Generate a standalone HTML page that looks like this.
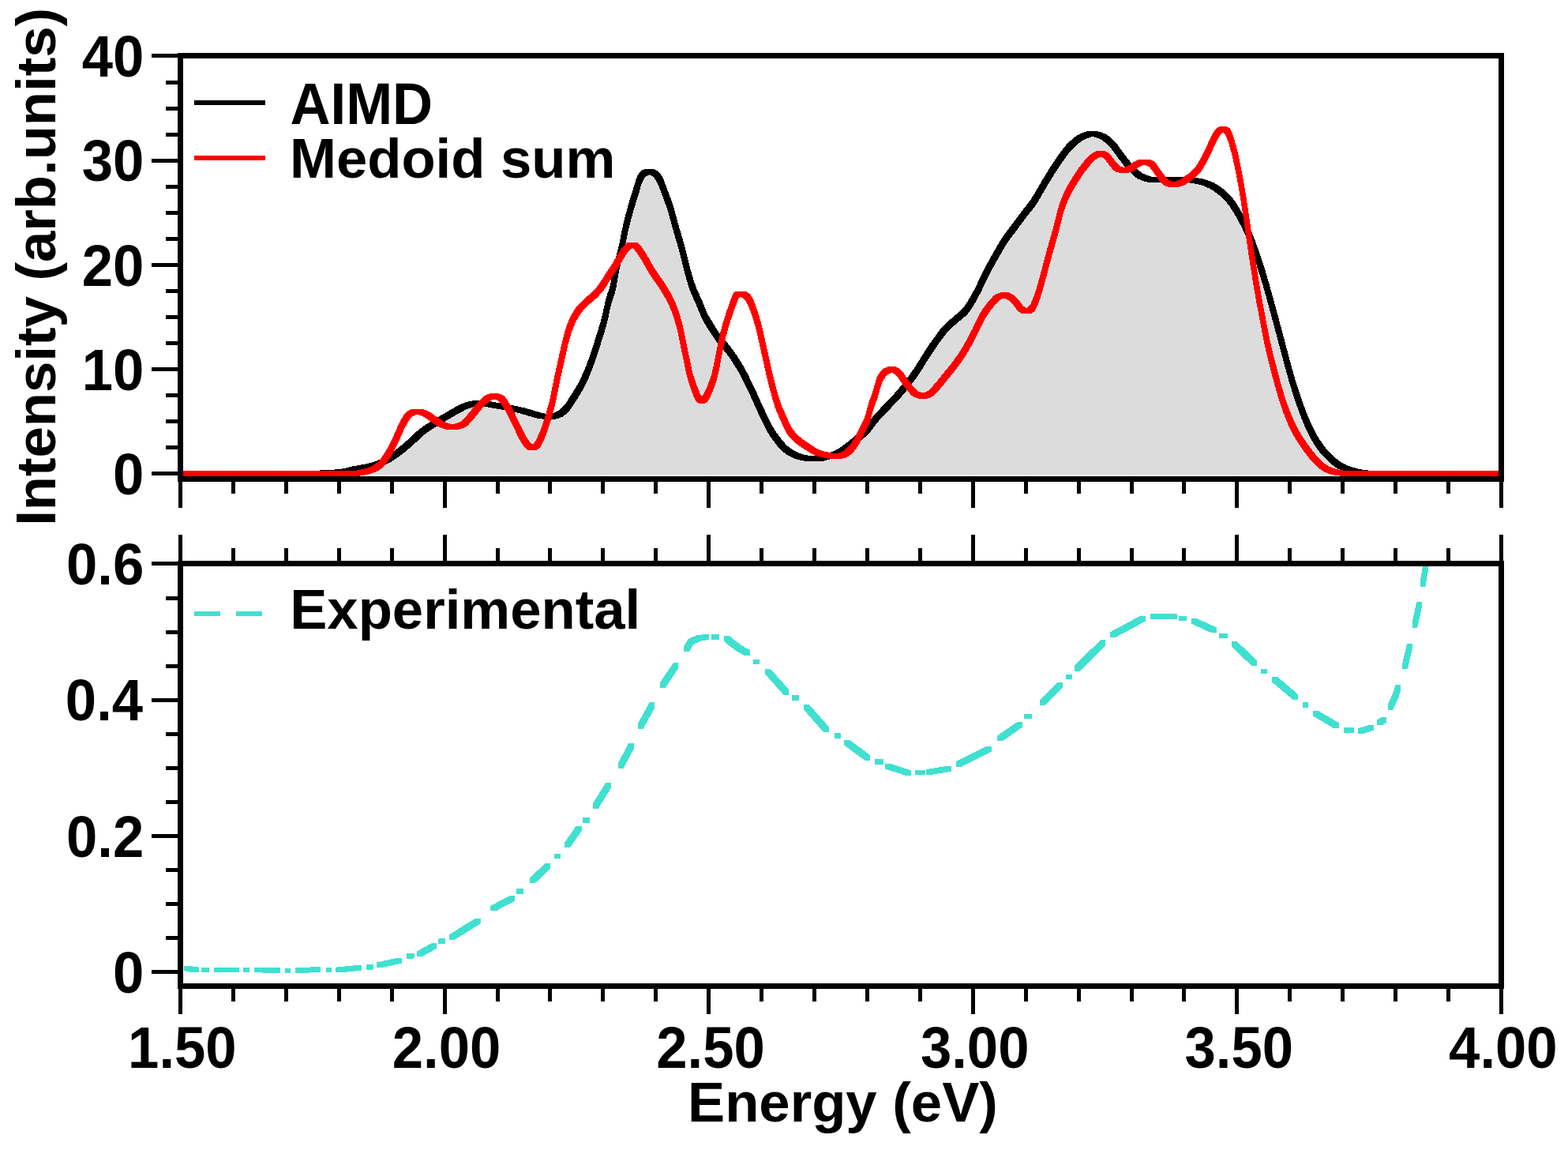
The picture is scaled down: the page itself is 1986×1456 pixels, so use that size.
<!DOCTYPE html>
<html lang="en"><head><meta charset="utf-8"><title>Absorption spectra: AIMD, Medoid sum, Experimental</title>
<style>html,body{margin:0;padding:0;background:#fff}body{width:1986px;height:1456px;overflow:hidden}svg{display:block}text{font-family:"Liberation Sans", Arial, Helvetica, sans-serif;font-weight:bold;font-size:70.7px;fill:#000}</style>
</head><body>
<svg width="1986" height="1456" viewBox="0 0 1986 1456" role="img" aria-label="Absorption spectra: AIMD and medoid sum (top), experimental (bottom)">
<rect x="0" y="0" width="1986" height="1456" fill="#fff"/>
<g shape-rendering="crispEdges">
<polygon points="228.5,601 228.5,599.5 230.5,599.5 232.5,599.5 234.5,599.5 236.5,599.5 238.5,599.5 240.5,599.5 242.5,599.5 244.5,599.5 246.5,599.5 248.5,599.5 250.5,599.5 252.5,599.5 254.5,599.5 256.5,599.5 258.5,599.5 260.5,599.5 262.5,599.5 264.5,599.5 266.5,599.5 268.5,599.5 270.5,599.5 272.5,599.5 274.5,599.5 276.5,599.5 278.5,599.5 280.5,599.5 282.5,599.5 284.5,599.5 286.5,599.5 288.5,599.5 290.5,599.5 292.5,599.5 294.5,599.5 296.5,599.5 298.5,599.5 300.5,599.5 302.5,599.5 304.5,599.5 306.5,599.5 308.5,599.5 310.5,599.5 312.5,599.5 314.5,599.5 316.5,599.5 318.5,599.5 320.5,599.5 322.5,599.5 324.5,599.5 326.5,599.5 328.5,599.5 330.5,599.5 332.5,599.5 334.5,599.4 336.5,599.4 338.5,599.4 340.5,599.4 342.5,599.4 344.5,599.4 346.5,599.4 348.5,599.4 350.5,599.4 352.5,599.4 354.5,599.4 356.5,599.4 358.5,599.4 360.5,599.4 362.5,599.4 364.5,599.3 366.5,599.3 368.5,599.3 370.5,599.3 372.5,599.3 374.5,599.3 376.5,599.3 378.5,599.3 380.5,599.2 382.5,599.2 384.5,599.2 386.5,599.2 388.5,599.2 390.5,599.1 392.5,599.1 394.5,599.1 396.5,599.1 398.5,599 400.5,599 402.5,599 404.5,599 406.5,598.9 408.5,598.9 410.5,598.9 412.5,598.8 414.5,598.8 416.5,598.7 418.5,598.6 420.5,598.5 422.5,598.4 424.5,598.2 426.5,598 428.5,597.8 430.5,597.6 432.5,597.3 434.5,597.1 436.5,596.8 438.5,596.5 440.5,596.1 442.5,595.6 444.5,595.1 446.5,594.6 448.5,594.1 450.5,593.7 452.5,593.3 454.5,592.9 456.5,592.6 458.5,592.3 460.5,591.9 462.5,591.6 464.5,591.2 466.5,590.8 468.5,590.4 470.5,589.9 472.5,589.3 474.5,588.8 476.5,588.1 478.5,587.4 480.5,586.7 482.5,585.9 484.5,585.1 486.5,584.3 488.5,583.3 490.5,582.3 492.5,581.1 494.5,579.9 496.5,578.6 498.5,577.2 500.5,575.8 502.5,574.3 504.5,572.9 506.5,571.4 508.5,569.8 510.5,568.2 512.5,566.5 514.5,564.8 516.5,563.1 518.5,561.3 520.5,559.6 522.5,557.7 524.5,555.8 526.5,553.9 528.5,552 530.5,550.1 532.5,548.4 534.5,546.7 536.5,545.2 538.5,543.7 540.5,542.3 542.5,541 544.5,539.7 546.5,538.5 548.5,537.2 550.5,536 552.5,534.8 554.5,533.6 556.5,532.4 558.5,531.2 560.5,530.1 562.5,528.9 564.5,527.8 566.5,526.6 568.5,525.4 570.5,524.2 572.5,523 574.5,521.8 576.5,520.7 578.5,519.6 580.5,518.5 582.5,517.5 584.5,516.4 586.5,515.4 588.5,514.5 590.5,513.7 592.5,513 594.5,512.4 596.5,511.8 598.5,511.3 600.5,510.9 602.5,510.8 604.5,510.8 606.5,510.9 608.5,510.9 610.5,511 612.5,511.1 614.5,511.3 616.5,511.4 618.5,511.7 620.5,512 622.5,512.4 624.5,512.8 626.5,513.2 628.5,513.5 630.5,513.9 632.5,514.2 634.5,514.5 636.5,514.9 638.5,515.2 640.5,515.5 642.5,515.8 644.5,516.2 646.5,516.6 648.5,517 650.5,517.4 652.5,517.8 654.5,518.2 656.5,518.7 658.5,519.1 660.5,519.6 662.5,520.1 664.5,520.7 666.5,521.3 668.5,521.9 670.5,522.5 672.5,523.1 674.5,523.7 676.5,524.2 678.5,524.8 680.5,525.5 682.5,526.1 684.5,526.5 686.5,526.9 688.5,527.1 690.5,527.2 692.5,527.4 694.5,527.4 696.5,527.5 698.5,527.5 700.5,527.2 702.5,526.7 704.5,526.1 706.5,525.4 708.5,524.6 710.5,523.4 712.5,521.8 714.5,520 716.5,518 718.5,515.8 720.5,513 722.5,510.1 724.5,507.1 726.5,504 728.5,500.8 730.5,497.6 732.5,494.2 734.5,490.6 736.5,486.9 738.5,483 740.5,479 742.5,474.5 744.5,469.6 746.5,464.5 748.5,459.1 750.5,453.6 752.5,447.7 754.5,441.5 756.5,435.1 758.5,428.7 760.5,422.4 762.5,416 764.5,409.1 766.5,401.3 768.5,391.8 770.5,382.7 772.5,375.9 774.5,370.6 776.5,363.7 778.5,352.2 780.5,340.5 782.5,332.1 784.5,325 786.5,317.5 788.5,308.3 790.5,297.8 792.5,288.3 794.5,280 796.5,272.3 798.5,265 800.5,258.2 802.5,251.8 804.5,245.5 806.5,239 808.5,231.8 810.5,226.5 812.5,222.8 814.5,220.4 816.5,219.1 818.5,218 820.5,217.4 822.5,217.2 824.5,217.5 826.5,218.2 828.5,219.2 830.5,220.3 832.5,222.5 834.5,225.6 836.5,229.3 838.5,234.3 840.5,239.7 842.5,245 844.5,250.3 846.5,255.8 848.5,261.6 850.5,268 852.5,275.1 854.5,282.7 856.5,290 858.5,296.8 860.5,303.5 862.5,310.3 864.5,317.7 866.5,325.9 868.5,334.2 870.5,341.8 872.5,349 874.5,355.9 876.5,362.2 878.5,367.6 880.5,372.2 882.5,376.5 884.5,380.9 886.5,385.6 888.5,390.7 890.5,395.6 892.5,400 894.5,403.8 896.5,407.3 898.5,410.6 900.5,413.8 902.5,417 904.5,420.1 906.5,423.1 908.5,426 910.5,428.7 912.5,431.2 914.5,433.6 916.5,435.9 918.5,438.2 920.5,440.6 922.5,443.1 924.5,445.7 926.5,448.5 928.5,451.4 930.5,454.4 932.5,457.5 934.5,460.7 936.5,464 938.5,467.4 940.5,470.9 942.5,474.6 944.5,478.5 946.5,482.5 948.5,486.6 950.5,490.8 952.5,495 954.5,499.3 956.5,503.8 958.5,508.3 960.5,512.8 962.5,517.2 964.5,521.5 966.5,525.8 968.5,530.1 970.5,534.3 972.5,538.3 974.5,542.1 976.5,545.5 978.5,548.6 980.5,551.5 982.5,554.3 984.5,556.9 986.5,559.4 988.5,561.9 990.5,564.3 992.5,566.5 994.5,568.4 996.5,570 998.5,571.3 1000.5,572.6 1002.5,573.7 1004.5,574.8 1006.5,575.7 1008.5,576.7 1010.5,577.5 1012.5,578.3 1014.5,578.9 1016.5,579.3 1018.5,579.7 1020.5,580 1022.5,580.3 1024.5,580.5 1026.5,580.6 1028.5,580.8 1030.5,580.9 1032.5,581 1034.5,581 1036.5,580.9 1038.5,580.6 1040.5,580.2 1042.5,579.6 1044.5,579 1046.5,578.4 1048.5,577.9 1050.5,577.3 1052.5,576.8 1054.5,576.2 1056.5,575.5 1058.5,574.8 1060.5,574 1062.5,573.1 1064.5,572.1 1066.5,570.8 1068.5,569.4 1070.5,567.9 1072.5,566.3 1074.5,564.8 1076.5,563.3 1078.5,561.7 1080.5,560.1 1082.5,558.5 1084.5,556.8 1086.5,555.1 1088.5,553.4 1090.5,551.7 1092.5,550 1094.5,548.1 1096.5,546.2 1098.5,544.1 1100.5,541.8 1102.5,539.2 1104.5,536.4 1106.5,533.6 1108.5,531 1110.5,528.7 1112.5,526.5 1114.5,524.3 1116.5,522.2 1118.5,520.2 1120.5,518.1 1122.5,516.1 1124.5,513.9 1126.5,511.8 1128.5,509.7 1130.5,507.6 1132.5,505.5 1134.5,503.3 1136.5,501.1 1138.5,498.9 1140.5,496.6 1142.5,494.2 1144.5,491.8 1146.5,489.4 1148.5,486.9 1150.5,484.4 1152.5,481.7 1154.5,479 1156.5,476.2 1158.5,473.4 1160.5,470.5 1162.5,467.5 1164.5,464.4 1166.5,461.2 1168.5,458 1170.5,454.7 1172.5,451.4 1174.5,448.3 1176.5,445.2 1178.5,442.2 1180.5,439.3 1182.5,436.3 1184.5,433.5 1186.5,430.7 1188.5,427.9 1190.5,425.1 1192.5,422.4 1194.5,419.8 1196.5,417.4 1198.5,415.3 1200.5,413.3 1202.5,411.5 1204.5,409.7 1206.5,408 1208.5,406.3 1210.5,404.6 1212.5,402.9 1214.5,401.2 1216.5,399.6 1218.5,397.8 1220.5,395.9 1222.5,393.8 1224.5,391.3 1226.5,388.5 1228.5,385.5 1230.5,382.2 1232.5,378.7 1234.5,375.2 1236.5,371.6 1238.5,367.8 1240.5,363.6 1242.5,359.4 1244.5,355.1 1246.5,350.9 1248.5,346.9 1250.5,343.1 1252.5,339.2 1254.5,335.5 1256.5,331.8 1258.5,328.2 1260.5,324.6 1262.5,321.1 1264.5,317.6 1266.5,314.2 1268.5,310.8 1270.5,307.6 1272.5,304.5 1274.5,301.5 1276.5,298.7 1278.5,296 1280.5,293.4 1282.5,290.8 1284.5,288.2 1286.5,285.5 1288.5,282.8 1290.5,280 1292.5,277.3 1294.5,274.6 1296.5,272 1298.5,269.4 1300.5,266.9 1302.5,264.4 1304.5,261.8 1306.5,259.2 1308.5,256.4 1310.5,253.5 1312.5,250.3 1314.5,246.9 1316.5,243.4 1318.5,239.9 1320.5,236.4 1322.5,233 1324.5,229.7 1326.5,226.4 1328.5,223 1330.5,219.8 1332.5,216.5 1334.5,213.4 1336.5,210.3 1338.5,207.3 1340.5,204.5 1342.5,201.7 1344.5,198.9 1346.5,196 1348.5,193.2 1350.5,190.7 1352.5,188.3 1354.5,186 1356.5,183.9 1358.5,182 1360.5,180.3 1362.5,178.6 1364.5,177 1366.5,175.5 1368.5,174.3 1370.5,173.2 1372.5,172.4 1374.5,171.5 1376.5,170.8 1378.5,170.1 1380.5,169.6 1382.5,169.3 1384.5,169.3 1386.5,169.6 1388.5,170 1390.5,170.5 1392.5,171.2 1394.5,171.9 1396.5,172.7 1398.5,173.8 1400.5,175.1 1402.5,176.8 1404.5,178.6 1406.5,180.5 1408.5,182.5 1410.5,184.7 1412.5,187.2 1414.5,189.9 1416.5,192.7 1418.5,195.5 1420.5,198.2 1422.5,200.7 1424.5,203.3 1426.5,205.8 1428.5,208.3 1430.5,210.6 1432.5,212.8 1434.5,214.8 1436.5,216.7 1438.5,218.5 1440.5,220.3 1442.5,221.8 1444.5,223.1 1446.5,224 1448.5,224.8 1450.5,225.6 1452.5,226.3 1454.5,226.9 1456.5,227.3 1458.5,227.5 1460.5,227.6 1462.5,227.8 1464.5,227.8 1466.5,227.9 1468.5,228 1470.5,228 1472.5,228 1474.5,227.9 1476.5,227.8 1478.5,227.7 1480.5,227.6 1482.5,227.5 1484.5,227.5 1486.5,227.5 1488.5,227.5 1490.5,227.5 1492.5,227.5 1494.5,227.5 1496.5,227.5 1498.5,227.5 1500.5,227.6 1502.5,227.7 1504.5,227.8 1506.5,227.9 1508.5,228 1510.5,228.2 1512.5,228.4 1514.5,228.7 1516.5,229.1 1518.5,229.5 1520.5,229.9 1522.5,230.4 1524.5,230.9 1526.5,231.6 1528.5,232.4 1530.5,233.2 1532.5,234 1534.5,235 1536.5,236 1538.5,237.2 1540.5,238.5 1542.5,239.9 1544.5,241.3 1546.5,242.9 1548.5,244.6 1550.5,246.4 1552.5,248.3 1554.5,250.4 1556.5,252.6 1558.5,255 1560.5,257.6 1562.5,260.6 1564.5,263.7 1566.5,267.1 1568.5,270.6 1570.5,274.1 1572.5,277.7 1574.5,281.5 1576.5,285.4 1578.5,289.5 1580.5,293.9 1582.5,298.5 1584.5,303.4 1586.5,308.5 1588.5,313.9 1590.5,319.4 1592.5,325.1 1594.5,331 1596.5,337.1 1598.5,343.4 1600.5,349.9 1602.5,356.7 1604.5,363.7 1606.5,370.8 1608.5,378 1610.5,385.2 1612.5,392.5 1614.5,399.9 1616.5,407.4 1618.5,414.9 1620.5,422.5 1622.5,430.1 1624.5,437.8 1626.5,445.4 1628.5,452.8 1630.5,460.2 1632.5,467.6 1634.5,474.8 1636.5,481.7 1638.5,488.2 1640.5,494.6 1642.5,500.7 1644.5,506.6 1646.5,512.2 1648.5,517.7 1650.5,523.1 1652.5,528.2 1654.5,533.2 1656.5,537.8 1658.5,542.1 1660.5,546.2 1662.5,550.1 1664.5,553.8 1666.5,557.2 1668.5,560.4 1670.5,563.4 1672.5,566.2 1674.5,568.8 1676.5,571.3 1678.5,573.6 1680.5,575.8 1682.5,577.9 1684.5,579.8 1686.5,581.6 1688.5,583.4 1690.5,585 1692.5,586.7 1694.5,588.1 1696.5,589.4 1698.5,590.5 1700.5,591.5 1702.5,592.4 1704.5,593.2 1706.5,593.9 1708.5,594.6 1710.5,595.1 1712.5,595.7 1714.5,596.2 1716.5,596.7 1718.5,597.2 1720.5,597.6 1722.5,598 1724.5,598.2 1726.5,598.5 1728.5,598.7 1730.5,598.9 1732.5,599.1 1734.5,599.3 1736.5,599.4 1738.5,599.5 1740.5,599.5 1742.5,599.5 1744.5,599.5 1746.5,599.5 1748.5,599.5 1750.5,599.5 1752.5,599.5 1754.5,599.5 1756.5,599.5 1758.5,599.5 1760.5,599.5 1762.5,599.5 1764.5,599.5 1766.5,599.5 1768.5,599.5 1770.5,599.5 1772.5,599.5 1774.5,599.5 1776.5,599.5 1778.5,599.5 1780.5,599.5 1782.5,599.5 1784.5,599.5 1786.5,599.5 1788.5,599.5 1790.5,599.5 1792.5,599.5 1794.5,599.5 1796.5,599.5 1798.5,599.5 1800.5,599.5 1802.5,599.5 1804.5,599.5 1806.5,599.5 1808.5,599.5 1810.5,599.5 1812.5,599.5 1814.5,599.5 1816.5,599.5 1818.5,599.5 1820.5,599.5 1822.5,599.5 1824.5,599.5 1826.5,599.5 1828.5,599.5 1830.5,599.5 1832.5,599.5 1834.5,599.5 1836.5,599.5 1838.5,599.5 1840.5,599.5 1842.5,599.5 1844.5,599.5 1846.5,599.5 1848.5,599.5 1850.5,599.5 1852.5,599.5 1854.5,599.5 1856.5,599.5 1858.5,599.5 1860.5,599.5 1862.5,599.5 1864.5,599.5 1866.5,599.5 1868.5,599.5 1870.5,599.5 1872.5,599.5 1874.5,599.5 1876.5,599.5 1878.5,599.5 1880.5,599.5 1882.5,599.5 1884.5,599.5 1886.5,599.5 1888.5,599.5 1890.5,599.5 1892.5,599.5 1894.5,599.5 1896.5,599.5 1898,599.5 1898,601" fill="#dcdcdc"/>
<path d="M375.1 595.9L313.1 596.1L225.2 596.1L225.2 602.9L333.9 602.8L373.9 602.7L401.9 602.4L417.9 602.1L423.9 601.9L431.9 601.1L441.9 599.9L453.9 597L467.9 594.5L471.9 593.7L475.9 592.7L479.9 591.5L485.9 589.3L489.9 587.6L493.9 585.6L497.9 583.2L501.9 580.5L511.9 573.2L515.9 569.9L523.9 562.9L535.9 551.7L539.9 548.5L543.9 545.7L555.9 538.1L581.9 522.9L587.9 519.8L591.9 517.8L595.9 516.4L599.9 515.2L601.9 514.6L604.3 514.3L613.1 514.8L617.1 515.3L625.1 516.9L639.1 519.2L649.1 521.1L657.1 523L679.1 529.4L683.1 530.2L685.1 530.4L693.1 530.8L701.9 530.8L703.9 530.5L707.9 529.5L711.9 527.9L713.9 526.7L715.9 525.2L719.9 521.4L721.9 519.2L723.9 516.4L731.9 504.2L737.9 494L741.9 486.4L745.9 477.8L749.9 467.8L753.9 456.9L757.9 444.9L765.9 419.3L767.9 412.4L769.9 404.6L773.9 386L775.9 379.3L777.9 373.9L779.9 367.1L783.9 343.8L785.9 335.5L789.9 320.9L791.9 311.6L793.9 301.1L795.9 291.6L797.9 283.3L801.9 268.4L803.9 261.5L809.9 242.3L811.9 235.1L813.9 229.8L815.9 226.2L817.9 223.7L819.9 222.4L822.3 221.3L825.1 222.5L827.1 223.7L829.1 225.9L831.1 229L833.1 232.6L835.1 237.6L841.1 253.6L845.1 264.9L847.1 271.3L853.1 293.4L859.1 313.7L861.1 321L865.1 337.5L867.1 345.2L871.1 359.3L873.1 365.5L875.1 370.9L877.1 375.6L881.1 384.2L887.1 398.9L889.1 403.4L893.1 410.6L899.1 420.3L903.1 426.4L907.1 432L909.1 434.5L917.1 444L921.1 449L927.1 457.7L931.1 464L935.1 470.7L939.1 477.9L945.1 490L951.1 502.7L959.1 520.6L967.1 537.6L971.1 545.4L975.1 552L979.1 557.6L985.1 565.3L989.1 569.8L991.1 571.7L995.1 574.7L999.1 577.1L1003.1 579.1L1007.1 580.9L1011.1 582.2L1017.1 583.4L1023.1 584L1031.2 584.3L1039.8 584.3L1041.8 584L1043.8 583.5L1055.8 580.1L1059.8 578.8L1063.8 577.3L1067.8 575.4L1069.8 574.1L1081.8 565.1L1093.8 555.1L1097.8 551.5L1101.8 547.5L1103.8 545.1L1109.8 537L1113.8 532L1117.8 527.7L1133.8 511L1139.8 504.5L1147.8 495.2L1153.8 487.7L1159.8 479.6L1165.8 470.9L1177.8 451.6L1183.8 442.6L1189.8 434L1197.8 423.2L1199.8 420.8L1203.8 416.6L1213.8 407.9L1221.8 401.2L1223.8 399.3L1225.8 397.2L1227.8 394.7L1231.8 388.8L1235.8 382.1L1239.8 374.9L1243.8 367L1249.8 354.3L1255.8 342.6L1263.8 328L1269.8 317.6L1273.8 310.9L1277.8 304.8L1279.8 302L1287.8 291.5L1299.8 275.3L1307.8 265.2L1311.8 259.8L1315.8 253.6L1325.8 236.3L1333.8 223.1L1337.8 216.7L1341.8 210.7L1349.8 199.3L1353.8 194L1357.8 189.4L1361.8 185.3L1367.8 180.3L1371.8 177.6L1373.8 176.6L1377.8 174.9L1381.8 173.4L1383.7 173L1387.2 173.9L1393.2 176.1L1395.2 177.1L1397.2 178.5L1401.2 181.9L1405.2 185.8L1407.2 188L1409.2 190.5L1417.2 201.5L1423.2 209.2L1427.2 214L1429.2 216.2L1435.2 221.9L1439.2 225.1L1441.2 226.4L1445.2 228.2L1449.2 229.6L1453.2 230.6L1455.2 230.8L1461.2 231.2L1467.2 231.3L1475.8 231.3L1485.8 230.9L1495.2 230.9L1501.2 231.1L1507.2 231.5L1511.2 232.1L1517.2 233.2L1521.2 234.3L1525.2 235.7L1531.2 238.3L1535.2 240.6L1541.2 244.7L1545.2 247.9L1549.2 251.6L1553.2 256L1557.2 261L1561.2 267.1L1565.2 273.9L1571.2 284.8L1575.2 292.9L1579.2 301.8L1581.2 306.7L1585.2 317.2L1589.2 328.4L1595.2 346.7L1601.2 367.1L1611.2 403.3L1627.2 463.6L1633.2 485L1637.2 497.9L1641.2 509.9L1645.2 521.1L1649.2 531.6L1653.2 541.2L1657.2 549.6L1661.2 557.1L1663.2 560.5L1667.2 566.7L1671.2 572.2L1673.2 574.7L1677.2 579.2L1681.2 583.2L1687.2 588.4L1691.2 591.5L1693.2 592.8L1695.2 593.9L1699.2 595.7L1705.2 597.9L1711.2 599.6L1717.2 600.9L1721.2 601.6L1731.2 602.6L1737.2 602.9L1901.3 602.9L1901.3 596.1L1743.8 596.1L1737.8 595.9L1731.8 595.4L1725.8 594.6L1719.8 593.4L1711.8 591.2L1707.8 589.8L1703.8 588.1L1699.8 586.1L1695.8 583.3L1691.8 580L1685.8 574.5L1681.8 570.3L1677.8 565.5L1675.8 562.8L1671.8 557L1667.8 550.4L1663.8 542.9L1659.8 534.5L1655.8 524.9L1651.8 514.4L1647.8 503.2L1643.8 491.2L1639.8 478.3L1633.8 456.9L1617.8 396.6L1607.8 360.4L1601.8 340L1595.8 321.7L1591.8 310.5L1587.8 300L1585.8 295.1L1581.8 286.2L1577.8 278.1L1571.8 267.2L1567.8 260.4L1563.8 254.3L1559.8 249.3L1555.8 244.9L1551.8 241.2L1547.8 238L1541.8 233.9L1537.8 231.6L1531.8 229L1527.8 227.6L1523.8 226.5L1517.8 225.4L1513.8 224.8L1507.8 224.4L1499.8 224.2L1479.2 224.2L1470.3 224.6L1461.8 224.2L1459.8 223.9L1455.8 222.9L1451.8 221.5L1447.8 219.7L1445.8 218.4L1441.8 215.2L1435.8 209.5L1433.8 207.3L1429.8 202.5L1423.8 194.8L1415.8 183.8L1413.8 181.3L1409.8 177.2L1405.8 173.4L1403.8 171.8L1401.8 170.4L1399.8 169.4L1393.8 167.2L1389.8 166.2L1387.8 166L1379.2 166L1377.2 166.3L1375.2 166.7L1371.2 168.2L1367.2 169.9L1365.2 170.9L1361.2 173.6L1355.2 178.7L1351.2 182.7L1347.2 187.3L1343.2 192.6L1335.2 204L1331.2 210L1319.2 229.6L1309.2 246.9L1305.2 253.1L1301.2 258.5L1293.2 268.6L1281.2 284.8L1273.2 295.3L1271.2 298.1L1267.2 304.2L1263.2 310.9L1257.2 321.3L1249.2 335.9L1243.2 347.6L1237.2 360.3L1233.2 368.2L1229.2 375.4L1225.2 382.1L1221.2 388L1219.2 390.4L1217.2 392.6L1215.2 394.5L1207.2 401.2L1197.2 409.9L1193.2 414.1L1191.2 416.5L1183.2 427.3L1177.2 435.9L1171.2 444.9L1159.2 464.1L1153.2 472.9L1147.2 481L1141.2 488.5L1133.2 497.8L1127.2 504.3L1111.2 521L1107.2 525.3L1103.2 530.3L1097.2 538.4L1095.2 540.8L1091.2 544.8L1087.2 548.4L1075.2 558.4L1063.2 567.4L1061.2 568.7L1057.2 570.6L1053.2 572.1L1049.2 573.4L1037.2 576.8L1033.6 577.5L1027.8 577.1L1023.9 576.7L1019.9 576L1015.9 574.9L1011.9 573.3L1005.9 570.4L1001.9 568L997.9 565L995.9 563.1L991.9 558.6L985.9 550.9L981.9 545.3L977.9 538.7L973.9 530.9L965.9 513.9L957.9 496L951.9 483.3L945.9 471.2L941.9 464L937.9 457.3L933.9 451L927.9 442.3L923.9 437.3L915.9 427.8L913.9 425.3L909.9 419.7L905.9 413.6L899.9 403.9L895.9 396.6L893.9 392.2L887.9 377.5L883.9 368.9L881.9 364.2L879.9 358.8L877.9 352.6L873.9 338.5L871.9 330.8L867.9 314.3L865.9 307L859.9 286.6L853.9 264.6L851.9 258.2L849.9 252.4L841.9 230.9L839.9 225.9L837.9 222.3L835.9 219.2L833.9 217L831.9 215.8L829.9 214.9L827.9 214.2L825.9 213.9L819.1 213.9L817.1 214L815.1 214.7L813.1 215.7L811.1 217L809.1 219.5L807.1 223.1L805.1 228.4L803.1 235.6L797.1 254.8L795.1 261.6L791.1 276.6L789.1 284.9L787.1 294.4L785.1 304.9L783.1 314.2L779.1 328.8L777.1 337.1L773.1 360.4L771.1 367.2L769.1 372.6L767.1 379.3L763.1 397.9L761.1 405.7L759.1 412.6L751.1 438.2L747.1 450.2L743.1 461.1L739.1 471.1L735.1 479.7L731.1 487.3L725.1 497.5L717.1 509.7L715.1 512.5L713.1 514.7L709.1 518.5L707.1 520L705.1 521.2L703.1 522L699.1 523.4L696 524L691.9 523.7L689.9 523.5L685.9 522.7L665.9 516.8L657.9 514.9L647.9 512.9L631.9 510.2L623.9 508.6L619.9 508.1L609.9 507.5L599.1 507.4L597.1 507.6L595.1 507.9L589.1 509.6L585.1 511.1L581.1 513.1L575.1 516.2L551.1 530.2L539.1 537.7L533.1 541.8L529.1 545L517.1 556.2L509.1 563.2L503.1 568L495.1 573.8L489.1 577.8L485.1 580L479.1 582.6L475.1 584.1L471.1 585.4L465.1 587L461.1 587.8L447.1 590.3L435.1 593.2L431.1 593.7L421.1 594.8L413.1 595.4Z" fill="#000"/>
<path d="M411.1 596.1L225.2 596.1L225.2 602.9L407.9 602.8L443.9 602.7L455.9 602.5L459.9 602L463.9 601.2L471.9 599.1L475.9 597.5L477.9 596.5L481.9 594.1L483.9 592.7L485.9 591L487.9 588.8L489.9 586.1L491.9 583.2L495.9 576.9L497.9 573.3L499.9 569.5L505.9 557.1L511.9 543.6L513.9 539.6L515.9 536.1L517.9 532.7L519.9 529.8L521.9 527.7L523.9 526.5L525.9 525.4L528 524.6L533.1 526L535.1 526.9L537.1 528L553.1 539.1L555.1 540.2L557.1 541L563.1 543.3L565.1 543.8L567.1 544.2L569.1 544.4L575.9 544.4L577.9 544.2L579.9 544L583.9 542.9L587.9 541.5L589.9 540.6L591.9 539.1L593.9 537.2L601.9 528.2L609.9 518.2L611.9 515.9L613.9 513.9L617.9 510.1L619.9 508.4L621.9 507L623.9 506.2L626 505.4L629.1 506.6L631.1 507.6L633.1 509.5L635.1 512.1L637.1 515.2L641.1 521.8L643.1 525.7L655.1 550.9L657.1 554.9L661.1 561.5L663.1 564.5L665.1 567L667.1 568.7L669.1 570L671.1 570.3L677.9 570.3L679.9 569.7L681.9 568.7L683.9 566.8L685.9 563.4L689.9 554.7L691.9 549.8L693.9 544.2L697.9 531.7L699.9 524.7L701.9 517.1L703.9 508.8L709.9 479.2L717.9 443.4L719.9 434.9L721.9 427.5L723.9 421.1L725.9 415.6L727.9 410.7L729.9 406.6L731.9 402.9L733.9 399.6L735.9 396.7L737.9 394.1L741.9 389.7L745.9 385.9L755.9 377.2L759.9 373.1L763.9 368.5L765.9 365.7L771.9 356.3L779.9 344.3L787.9 330.9L791.9 324.3L793.9 321.2L795.9 318.7L797.9 316.6L799.9 314.9L801.3 314.2L803.1 315.7L807.1 321L809.1 324L813.1 330.4L819.1 341.1L821.1 344.5L825.1 350.6L835.1 365.1L837.1 368.2L843.1 378.4L847.1 386.3L849.1 390.9L851.1 395.9L853.1 401.6L855.1 408.1L857.1 415.2L859.1 423.9L869.1 472.8L871.1 480.8L875.1 492.7L877.1 498.2L879.1 503.1L881.1 507L883.1 509.7L885.1 510.8L891.9 510.8L893.9 510.3L895.9 508.6L897.9 505.7L899.9 501.9L901.9 497.4L905.9 486.9L907.9 481.1L909.9 472.7L915.9 442.4L917.9 432.9L919.9 424.8L923.9 410.6L925.9 404.3L929.9 392.7L933.9 381.9L935.9 377.2L938.6 376L939.1 376.3L941.1 377.6L943.1 379.4L945.1 381.8L947.1 385.7L949.1 390.5L951.1 395.7L953.1 401.5L957.1 415.5L959.1 423.3L971.1 477.2L975.1 493.3L979.1 508L981.1 514.4L983.1 519.8L985.1 524.6L993.1 542.4L995.1 546.5L997.1 549.8L999.1 552.4L1001.1 554.8L1003.1 556.8L1007.1 560.5L1009.1 562.1L1013.1 565L1025.2 572.9L1029.2 575.2L1031.2 576.2L1035.2 577.5L1039.2 578.6L1049.2 580.7L1053.2 581.2L1061.8 581.2L1063.8 581.1L1067.8 580.4L1069.8 580L1071.8 579.3L1073.8 578.3L1077.8 575.3L1079.8 573.5L1081.8 571.3L1083.8 568.8L1087.8 562.9L1089.8 559.7L1091.8 555.8L1095.8 547.4L1099.8 539.5L1101.8 534.9L1103.8 528.3L1105.8 520.2L1107.8 514L1111.8 503L1115.8 488.9L1117.8 483.1L1119.8 479.7L1121.8 476.9L1123.8 474.8L1125.8 473.4L1129.6 471.6L1131.2 472.5L1133.2 473.9L1135.2 475.5L1137.2 478L1141.2 484L1145.2 489.5L1149.2 494.7L1153.2 499.3L1155.2 501.2L1157.2 502.4L1161.2 504.1L1163.2 504.6L1165.2 504.8L1171.8 504.8L1173.8 504.7L1175.8 504.2L1177.8 503.5L1181.8 501.6L1183.8 500L1185.8 498L1193.8 488.8L1201.8 478.6L1209.8 469.1L1215.8 461.1L1219.8 455.3L1223.8 449.2L1229.8 438.9L1237.8 423.9L1245.8 407.2L1247.8 403.4L1249.8 400.1L1251.8 397.1L1255.8 391.7L1259.8 386.9L1263.8 382.5L1265.8 380.5L1267.8 379.1L1272.1 377.5L1273.2 377.9L1277.2 379.9L1279.2 381.6L1281.2 383.7L1285.2 388.4L1287.2 391.3L1289.2 393.8L1291.2 395.3L1293.2 396.4L1295.2 397.2L1297.2 397.3L1303.8 397.3L1305.8 396.9L1307.8 395.9L1309.8 394.7L1311.8 392L1313.8 387.4L1315.8 382.4L1317.8 376.7L1319.8 370.2L1323.8 356.1L1331.8 325.7L1339.8 297.5L1345.8 274L1347.8 267L1349.8 261.1L1351.8 256L1353.8 251.4L1357.8 243.3L1361.8 236.3L1367.8 226.8L1371.8 220.8L1375.8 215.4L1381.8 208.1L1383.8 205.9L1385.8 203.9L1387.8 202.2L1391.8 199.4L1393.9 198.3L1395.2 198.8L1397.2 200L1399.2 201.7L1405.2 209.7L1409.2 214.3L1411.2 216.2L1413.2 217.4L1415.2 218.1L1417.2 218.7L1419.2 219.1L1427.8 219.1L1429.8 218.7L1433.8 217.3L1435.8 216.4L1439.8 213.4L1441.8 212.2L1445.8 210L1447.8 209.2L1449.8 208.8L1451.2 209.1L1453.2 210L1455.2 211.1L1457.2 213.2L1467.2 227.2L1469.2 229.8L1473.2 233.7L1475.2 235.2L1477.2 236.2L1481.2 237L1483.2 237.1L1491.8 237.1L1493.8 236.7L1495.8 236L1499.8 234.4L1501.8 233.5L1503.8 232.3L1509.8 228L1513.8 224.9L1517.8 221.2L1519.8 219.1L1521.8 216.4L1523.8 213.4L1527.8 206.6L1529.8 202.7L1533.8 194.4L1539.8 181L1541.8 177.2L1543.8 173.7L1545.8 170.7L1547.8 168.5L1549.2 167.8L1551.2 169.4L1553.2 173.3L1555.2 178.3L1557.2 184.5L1561.2 199.9L1563.2 208.8L1565.2 218.3L1567.2 228.7L1571.2 252L1575.2 278.4L1579.2 306.9L1583.2 333.8L1587.2 358.8L1591.2 382.2L1599.2 424.3L1601.2 434.4L1603.2 443.5L1605.2 451.8L1613.2 483.1L1617.2 497.5L1621.2 510.3L1623.2 516.3L1627.2 527.1L1631.2 536.8L1633.2 541.3L1637.2 549.3L1639.2 552.9L1643.2 559.4L1647.2 565.4L1651.2 571.1L1657.2 579L1661.2 583.8L1665.2 588.2L1667.2 590.1L1671.2 593.5L1673.2 595L1675.2 596.3L1677.2 597.4L1681.2 599.2L1685.2 600.5L1691.2 601.7L1697.2 602.5L1711.2 602.8L1901.3 602.9L1901.3 596.1L1717.8 596.1L1705.8 595.9L1703.8 595.8L1699.8 595.4L1693.8 594.3L1689.8 593.2L1687.8 592.5L1683.8 590.7L1681.8 589.6L1679.8 588.3L1675.8 585.2L1671.8 581.5L1667.8 577.1L1661.8 569.8L1655.8 561.6L1651.8 555.7L1647.8 549.5L1643.8 542.6L1639.8 534.6L1637.8 530.1L1633.8 520.4L1629.8 509.6L1625.8 497.4L1621.8 483.9L1611.8 445.1L1609.8 436.8L1607.8 427.7L1605.8 417.6L1599.8 386.4L1595.8 364L1589.8 327.1L1585.8 300.2L1581.8 271.6L1577.8 245.3L1573.8 222L1569.8 202.1L1567.8 193.2L1563.8 177.8L1561.8 171.7L1559.8 166.6L1557.8 162.7L1555.8 161.1L1553.8 160.2L1551.8 160L1545.2 160L1543.2 160.7L1541.2 161.8L1539.2 164L1537.2 167L1535.2 170.5L1533.2 174.3L1527.2 187.7L1523.2 196L1521.2 199.9L1517.2 206.7L1515.2 209.7L1513.2 212.4L1511.2 214.5L1509.2 216.5L1505.2 219.8L1497.2 225.6L1495.2 226.8L1493.2 227.7L1489.2 229.3L1487.2 230L1486.7 230.1L1483.8 229.5L1481.8 228.5L1479.8 227L1477.8 225.1L1475.8 223.1L1473.8 220.5L1463.8 206.5L1461.8 204.4L1459.8 203.3L1457.8 202.4L1455.8 201.8L1453.8 201.7L1447.2 201.7L1443.2 202.1L1441.2 202.5L1439.2 203.3L1435.2 205.5L1433.2 206.7L1429.2 209.7L1427.2 210.6L1423.4 211.9L1419.8 210.7L1417.8 209.5L1415.8 207.6L1411.8 203L1405.8 195L1403.8 193.3L1401.8 192.1L1399.8 191.2L1397.8 191L1391.2 191L1389.2 191.1L1387.2 191.6L1385.2 192.7L1383.2 194L1379.2 197.2L1377.2 199.2L1375.2 201.4L1369.2 208.7L1365.2 214.1L1361.2 220.1L1355.2 229.6L1351.2 236.6L1347.2 244.7L1345.2 249.3L1343.2 254.4L1341.2 260.3L1339.2 267.3L1333.2 290.8L1325.2 319L1317.2 349.4L1313.2 363.5L1311.2 370L1309.2 375.6L1307.2 380.7L1305.2 385.3L1303.2 387.9L1301.2 389.2L1300 389.8L1297.8 388.6L1295.8 387.1L1293.8 384.6L1291.8 381.7L1287.8 377L1285.8 374.9L1283.8 373.2L1279.8 371.2L1277.8 370.5L1275.8 370.2L1269.2 370.2L1267.2 370.4L1265.2 370.9L1261.2 372.4L1259.2 373.8L1257.2 375.8L1253.2 380.2L1249.2 385L1245.2 390.4L1243.2 393.4L1241.2 396.7L1239.2 400.5L1231.2 417.2L1223.2 432.2L1217.2 442.5L1213.2 448.6L1209.2 454.4L1203.2 462.4L1195.2 471.9L1187.2 482.1L1179.2 491.3L1177.2 493.3L1175.2 494.9L1171.2 496.8L1168.8 497.6L1165.8 496.6L1163.8 495.7L1161.8 494.5L1159.8 492.6L1153.8 485.5L1147.8 477.3L1143.8 471.3L1141.8 468.8L1139.8 467.2L1137.8 465.8L1135.8 464.7L1133.8 464.2L1127.2 464.2L1125.2 464.3L1123.2 464.8L1121.2 465.7L1119.2 466.6L1117.2 468.1L1115.2 470.2L1113.2 473L1111.2 476.4L1109.2 482.2L1105.2 496.3L1101.2 507.3L1099.2 513.5L1097.2 521.6L1095.2 528.2L1093.2 532.8L1089.2 540.6L1085.2 549.1L1083.2 553L1081.2 556.2L1077.2 562.1L1075.2 564.6L1073.2 566.8L1071.2 568.6L1067.2 571.6L1065.2 572.6L1063.2 573.3L1061.2 573.7L1057.7 574.3L1047.8 572.3L1043.8 571.4L1039.8 570.2L1037.8 569.5L1035.8 568.5L1031.8 566.2L1019.9 558.3L1015.9 555.4L1013.9 553.8L1009.9 550.1L1007.9 548.1L1005.9 545.7L1003.9 543.1L1001.9 539.8L999.9 535.7L991.9 517.9L989.9 513.1L987.9 507.7L985.9 501.3L981.9 486.6L977.9 470.5L965.9 416.6L963.9 408.8L959.9 394.8L957.9 389L955.9 383.8L953.9 379L951.9 375.1L949.9 372.7L947.9 370.9L945.9 369.6L943.9 368.8L935.1 368.7L933.1 369L931.1 369.5L929.1 370.4L927.1 375.2L923.1 386L919.1 397.6L915.1 410.7L913.1 418.1L911.1 426.2L909.1 435.7L903.1 466L901.1 474.4L899.1 480.2L895.1 490.7L893.1 495.2L891.1 499L889.1 501.9L887.9 500.3L885.9 496.4L883.9 491.5L881.9 486L877.9 474.1L875.9 466.1L865.9 417.2L863.9 408.5L861.9 401.4L859.9 394.9L857.9 389.2L855.9 384.1L853.9 379.6L849.9 371.7L843.9 361.5L841.9 358.4L829.9 340.9L825.9 334.4L821.9 327.1L817.9 320.4L813.9 314.3L809.9 309L807.9 307.4L805.9 306.6L803.9 306.5L797.1 306.5L795.1 307.2L793.1 308.2L791.1 309.9L789.1 312L787.1 314.5L785.1 317.6L781.1 324.1L773.1 337.6L765.1 349.6L759.1 359L757.1 361.8L753.1 366.4L749.1 370.4L739.1 379.1L735.1 383L731.1 387.4L729.1 390L727.1 392.9L725.1 396.2L723.1 399.9L721.1 404L719.1 408.9L717.1 414.4L715.1 420.8L713.1 428.2L711.1 436.7L703.1 472.5L697.1 502.1L695.1 510.4L693.1 518L691.1 525L687.1 537.5L685.1 543.1L683.1 548L679.1 556.7L677.1 560.1L675.1 562L674.4 562.4L671.9 560.3L669.9 557.8L665.9 551.6L663.9 548.2L661.9 544.2L649.9 519L647.9 515.1L643.9 508.5L641.9 505.4L639.9 502.8L637.9 500.9L633.9 499.1L631.9 498.5L629.9 498.2L623.1 498.2L621.1 498.3L619.1 498.8L617.1 499.5L615.1 500.3L613.1 501.7L609.1 505.2L605.1 509.2L603.1 511.5L595.1 521.5L587.1 530.5L585.1 532.4L583.1 533.9L581.1 534.8L577.1 536.2L573.1 537.3L572.8 537.3L571.9 537.1L569.9 536.6L565.9 535.1L561.9 533.5L559.9 532.4L557.9 531L543.9 521.3L541.9 520.2L539.9 519.3L535.9 518.2L533.9 517.7L531.9 517.5L523.1 517.5L521.1 518L519.1 518.7L517.1 519.8L515.1 521L513.1 523.1L511.1 526L507.1 532.9L505.1 536.9L499.1 550.4L493.1 562.8L489.1 570.2L483.1 579.4L481.1 582.1L479.1 584.3L477.1 586L475.1 587.4L471.1 589.8L469.1 590.8L465.1 592.4L459.1 594L455.1 594.9L451.1 595.6L447.1 595.9Z" fill="#f00"/>
</g>
<g shape-rendering="crispEdges" fill="#40e0d0">
<path d="M232.7 1229.1L238.7 1230.3L245.5 1231.3L252.2 1231.3L252.2 1224.7L245.3 1223.7L239.3 1222.5L232.7 1222.5ZM254.7 1224.5L254.7 1231.1L265.4 1231.1L265.4 1224.5ZM270.6 1224.5L270.6 1231.1L303.4 1231.1L303.4 1224.5ZM308.1 1224.5L308.1 1231.1L316.4 1231.1L316.4 1224.5ZM321.6 1224.5L321.6 1231.1L348.4 1232.1L355.2 1232.1L355.2 1225.5L328.4 1224.5ZM360.9 1225.5L360.9 1232.1L368.4 1232.1L368.4 1225.5ZM399.6 1224.2L373.9 1225.5L373.9 1232.1L380.7 1232.1L406.4 1230.8L406.4 1224.2ZM412.6 1224.5L412.6 1231.1L420.4 1231.1L420.4 1224.5ZM451.6 1222L425.1 1224.7L425.1 1231.3L431.9 1231.3L458.4 1228.6L458.4 1222ZM466.6 1220.7L463.9 1221.2L463.9 1227.8L470.7 1227.8L473.4 1227.3L473.4 1220.7ZM502.4 1213L476.9 1218.5L476.9 1225.1L483.7 1225.1L509.2 1219.6L509.2 1213ZM517.9 1206.5L515.1 1207.5L515.1 1214.1L521.9 1214.1L524.6 1213.1L524.6 1206.5ZM546.6 1194.2L527.6 1204.7L527.6 1211.3L534.4 1211.3L553.4 1200.8L553.4 1194.2ZM557.4 1187.7L555.1 1188.7L555.1 1195.3L561.9 1195.3L564.1 1194.3L564.1 1187.7ZM602.4 1162.5L569.4 1183L569.4 1189.6L576.1 1189.6L609.1 1169.1L609.1 1162.5ZM645.4 1134.2L621.4 1146.7L621.4 1153.3L628.1 1153.3L652.1 1140.8L652.1 1134.2ZM653.9 1125.2L653.9 1131.8L662.9 1131.8L662.9 1125.2ZM690.4 1093L670.9 1111.7L670.9 1118.3L677.6 1118.3L697.1 1099.6L697.1 1093ZM701.9 1080.5L701.9 1087.1L710.1 1087.1L710.1 1080.5ZM729.9 1045.5L715.1 1066.7L715.1 1073.3L721.9 1073.3L736.6 1052.1L736.6 1045.5ZM737.6 1035L737.6 1041.6L747.4 1041.6L747.4 1035ZM767.5 990.6L750.9 1017.2L750.9 1024L757.6 1024L774.2 997.4L774.2 990.6ZM796.5 940.6L782.6 966.4L782.6 973.1L789.4 973.1L803.2 947.4L803.2 940.6ZM822.6 889.4L807.6 916.4L807.6 923.1L814.4 923.1L829.4 896.1L829.4 889.4ZM852.6 839.4L835.9 864.4L835.9 871.1L842.6 871.1L859.4 846.1L859.4 839.4ZM881.6 804.6L871.6 809.1L866.4 817.9L866.4 824.6L873.1 824.6L878.4 815.9L888.4 811.4L897.9 809.9L897.9 803.1L891.1 803.1ZM900.9 803.1L900.9 809.9L911.1 809.9L911.1 803.1ZM916.6 811.4L921.6 815.9L931.6 823.4L943.6 830.4L950.4 830.4L950.4 823.6L938.4 816.6L928.4 809.1L923.4 804.6L916.6 804.6ZM953.9 834.6L953.9 841.4L962.4 841.4L962.4 834.6ZM968.9 846.6L968.9 853.4L992.4 879.6L999.1 879.6L999.1 872.9L975.6 846.6ZM1002.9 880.4L1002.9 887.1L1012.1 887.1L1012.1 880.4ZM1017.9 891.6L1017.9 898.4L1043.2 927.1L1049.8 927.1L1049.8 920.4L1024.6 891.6ZM1056.7 927.9L1056.7 934.6L1065.3 934.6L1065.3 927.9ZM1069.2 936.6L1069.2 943.4L1095.5 962.9L1102.1 962.9L1102.1 956.1L1075.8 936.6ZM1107.7 960.9L1107.7 967.6L1119.1 967.6L1119.1 960.9ZM1121 966.6L1121 973.4L1147.5 982.1L1154.1 982.1L1154.1 975.4L1127.6 966.6ZM1159 974.6L1159 981.4L1171.6 981.4L1171.6 974.6ZM1198.7 969.9L1173 974.1L1173 980.9L1179.6 980.9L1205.3 976.6L1205.3 969.9ZM1249.5 944.6L1211 964.1L1211 970.9L1217.6 970.9L1256.1 951.4L1256.1 944.6ZM1288.2 914.1L1263 931.6L1263 938.4L1269.6 938.4L1294.8 920.9L1294.8 914.1ZM1296.7 903.6L1296.7 910.4L1307.3 910.4L1307.3 903.6ZM1339.5 864.1L1316.7 886.6L1316.7 893.4L1323.3 893.4L1346.1 870.9L1346.1 864.1ZM1349.7 853.6L1349.7 860.4L1358.3 860.4L1358.3 853.6ZM1393.7 810.4L1361 842.9L1361 849.6L1367.6 849.6L1400.3 817.1L1400.3 810.4ZM1444.5 779.6L1406 800.4L1406 807.1L1412.6 807.1L1451.1 786.4L1451.1 779.6ZM1456.7 777.1L1456.7 783.9L1491.1 783.9L1491.1 777.1ZM1492.7 779.6L1492.7 786.4L1503.3 786.4L1503.3 779.6ZM1509 782.9L1509 789.6L1534.5 801.4L1541.1 801.4L1541.1 794.6L1515.6 782.9ZM1544 801.6L1544 808.4L1554.6 808.4L1554.6 801.6ZM1559.7 811.6L1559.7 818.4L1585.7 843.4L1592.3 843.4L1592.3 836.6L1566.3 811.6ZM1596.5 846.6L1596.5 853.4L1605.3 853.4L1605.3 846.6ZM1611 856.6L1611 863.4L1637.5 885.9L1644.1 885.9L1644.1 879.1L1617.6 856.6ZM1649.7 889.1L1649.7 895.9L1657.3 895.9L1657.3 889.1ZM1663 899.9L1663 906.6L1689.5 922.1L1696.1 922.1L1696.1 915.4L1669.6 899.9ZM1701.7 920.9L1701.7 927.6L1715.3 927.6L1715.3 920.9ZM1733.7 917.9L1719.7 922.4L1719.7 929.1L1726.3 929.1L1740.3 924.6L1740.3 917.9ZM1749.5 907.9L1744 911.6L1744 918.4L1750.6 918.4L1756.1 914.6L1756.1 907.9ZM1764.7 876.6L1757.5 892.4L1757.5 899.1L1764.1 899.1L1771.3 883.4L1774.1 873.9L1774.1 867.1L1767.5 867.1ZM1782.2 814.6L1776.2 839.9L1776.2 846.6L1782.8 846.6L1788.8 821.4L1788.8 814.6ZM1794.2 762.1L1788.5 788.6L1788.5 795.4L1795.1 795.4L1800.8 768.9L1800.8 762.1ZM1802.2 716.1L1798.7 736.1L1798.7 742.9L1805.3 742.9L1808.8 722.9L1808.8 716.1Z"/>
</g>
<g shape-rendering="crispEdges" fill="none" stroke="#000">
<rect x="228.5" y="70.5" width="1673.0" height="536.0" stroke-width="7"/>
<rect x="228.5" y="713.5" width="1673.0" height="535.0" stroke-width="7"/>
<path d="M192 599.5H228.5M210 566.5H228.5M210 533.5H228.5M210 500.5H228.5M192 467.5H228.5M210 434.5H228.5M210 401.5H228.5M210 368.5H228.5M192 335.5H228.5M210 302.5H228.5M210 269.5H228.5M210 236.5H228.5M192 203.5H228.5M210 170.5H228.5M210 137.5H228.5M210 104.5H228.5M192 70.5H228.5M192 1230.5H228.5M210 1187.5H228.5M210 1144.5H228.5M210 1101.5H228.5M192 1058.5H228.5M210 1015.5H228.5M210 972.5H228.5M210 929.5H228.5M192 886.5H228.5M210 843.5H228.5M210 800.5H228.5M210 757.5H228.5M192 713.5H228.5M228.5 606.5V643M228.5 713.5V677M228.5 1248.5V1284M295.5 606.5V625M295.5 713.5V694M295.5 1248.5V1268M362.5 606.5V625M362.5 713.5V694M362.5 1248.5V1268M429.5 606.5V625M429.5 713.5V694M429.5 1248.5V1268M496.5 606.5V625M496.5 713.5V694M496.5 1248.5V1268M563.5 606.5V643M563.5 713.5V677M563.5 1248.5V1284M630.5 606.5V625M630.5 713.5V694M630.5 1248.5V1268M696.5 606.5V625M696.5 713.5V694M696.5 1248.5V1268M763.5 606.5V625M763.5 713.5V694M763.5 1248.5V1268M830.5 606.5V625M830.5 713.5V694M830.5 1248.5V1268M897.5 606.5V643M897.5 713.5V677M897.5 1248.5V1284M964.5 606.5V625M964.5 713.5V694M964.5 1248.5V1268M1031.5 606.5V625M1031.5 713.5V694M1031.5 1248.5V1268M1098.5 606.5V625M1098.5 713.5V694M1098.5 1248.5V1268M1165.5 606.5V625M1165.5 713.5V694M1165.5 1248.5V1268M1232.5 606.5V643M1232.5 713.5V677M1232.5 1248.5V1284M1299.5 606.5V625M1299.5 713.5V694M1299.5 1248.5V1268M1366.5 606.5V625M1366.5 713.5V694M1366.5 1248.5V1268M1433.5 606.5V625M1433.5 713.5V694M1433.5 1248.5V1268M1499.5 606.5V625M1499.5 713.5V694M1499.5 1248.5V1268M1566.5 606.5V643M1566.5 713.5V677M1566.5 1248.5V1284M1633.5 606.5V625M1633.5 713.5V694M1633.5 1248.5V1268M1700.5 606.5V625M1700.5 713.5V694M1700.5 1248.5V1268M1767.5 606.5V625M1767.5 713.5V694M1767.5 1248.5V1268M1834.5 606.5V625M1834.5 713.5V694M1834.5 1248.5V1268M1901.5 606.5V643M1901.5 713.5V677M1901.5 1248.5V1284" stroke-width="5"/>
<path d="M246 130H336" stroke-width="6"/>
<path d="M246 200H336" stroke="#f00" stroke-width="6"/>
<path d="M246 777H279M299 777H332" stroke="#40e0d0" stroke-width="6"/>
</g>
<text transform="translate(182.3 97) scale(1 1.045)" text-anchor="end">40</text>
<text transform="translate(182.3 229.2) scale(1 1.045)" text-anchor="end">30</text>
<text transform="translate(182.3 361.5) scale(1 1.045)" text-anchor="end">20</text>
<text transform="translate(182.3 493.8) scale(1 1.045)" text-anchor="end">10</text>
<text transform="translate(182.3 626) scale(1 1.045)" text-anchor="end">0</text>
<text transform="translate(182.3 740) scale(1 1.045)" text-anchor="end">0.6</text>
<text transform="translate(181.1 912.3) scale(1 1.045)" text-anchor="end">0.4</text>
<text transform="translate(182.3 1084.7) scale(1 1.045)" text-anchor="end">0.2</text>
<text transform="translate(182.3 1257) scale(1 1.045)" text-anchor="end">0</text>
<text transform="translate(230.9 1351.5) scale(1 1.045)" text-anchor="middle">1.50</text>
<text transform="translate(565.5 1351.5) scale(1 1.045)" text-anchor="middle">2.00</text>
<text transform="translate(900.1 1351.5) scale(1 1.045)" text-anchor="middle">2.50</text>
<text transform="translate(1234.7 1351.5) scale(1 1.045)" text-anchor="middle">3.00</text>
<text transform="translate(1569.3 1351.5) scale(1 1.045)" text-anchor="middle">3.50</text>
<text transform="translate(1903.9 1351.5) scale(1 1.045)" text-anchor="middle">4.00</text>
<text transform="translate(1067.4 1419.7)" text-anchor="middle">Energy (eV)</text>
<text transform="translate(70.2 337.9) rotate(-90)" text-anchor="middle">Intensity (arb.units)</text>
<text transform="translate(367.5 156.8) scale(1 1.045)" text-anchor="start">AIMD</text>
<text transform="translate(367 224.9)" text-anchor="start">Medoid sum</text>
<text transform="translate(367.2 795.5)" text-anchor="start">Experimental</text>
</svg>
</body></html>
